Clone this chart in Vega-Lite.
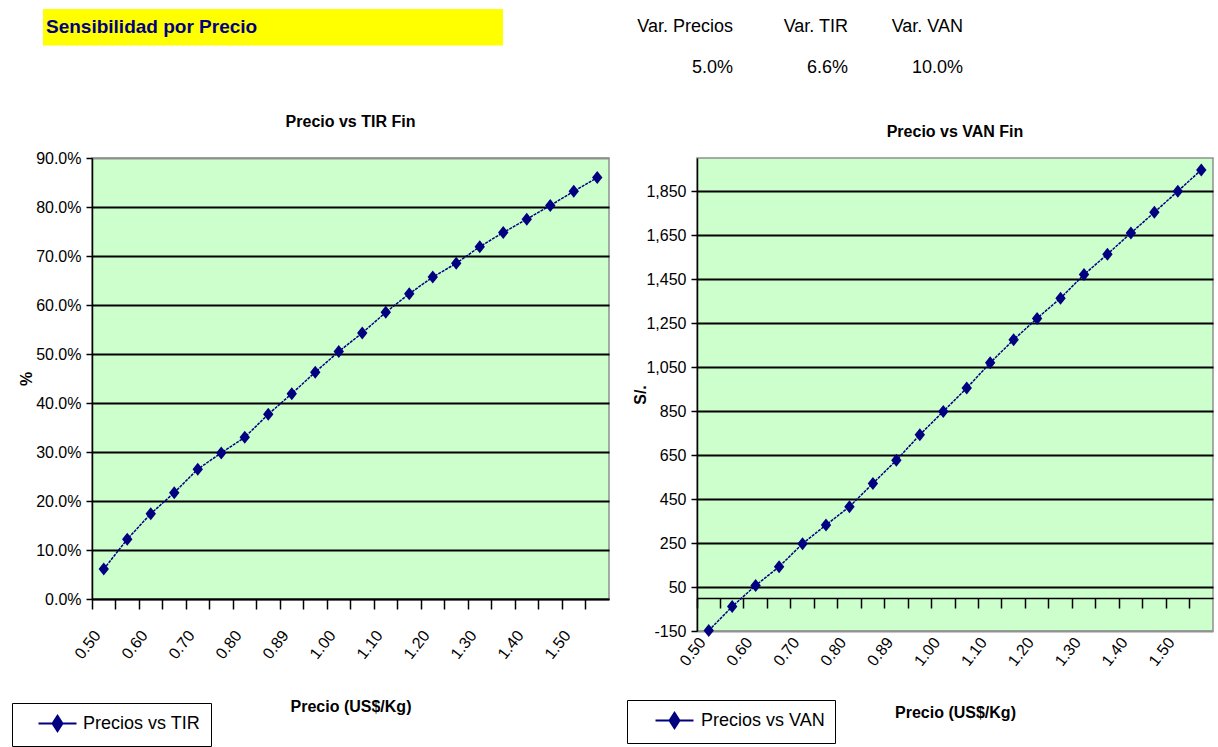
{
  "$schema": "https://vega.github.io/schema/vega-lite/v6.json",
  "padding": {"left": 10, "top": 0, "right": 0, "bottom": 0},
  "background": "#ffffff",
  "datasets": {
    "titulo": [{"titulo": "Sensibilidad por Precio"}],
    "resumen": [
      {"variable": "Var. Precios", "valor": "5.0%"},
      {"variable": "Var. TIR", "valor": "6.6%"},
      {"variable": "Var. VAN", "valor": "10.0%"}
    ],
    "sens": [
      {"precio": "0.50", "tir": 0.061, "van": -148},
      {"precio": "0.55", "tir": 0.122, "van": -39},
      {"precio": "0.60", "tir": 0.174, "van": 57},
      {"precio": "0.65", "tir": 0.217, "van": 142},
      {"precio": "0.70", "tir": 0.265, "van": 247},
      {"precio": "0.75", "tir": 0.298, "van": 332},
      {"precio": "0.80", "tir": 0.330, "van": 415},
      {"precio": "0.84", "tir": 0.377, "van": 521},
      {"precio": "0.89", "tir": 0.419, "van": 626},
      {"precio": "0.94", "tir": 0.463, "van": 742},
      {"precio": "1.00", "tir": 0.505, "van": 848},
      {"precio": "1.05", "tir": 0.543, "van": 954},
      {"precio": "1.10", "tir": 0.585, "van": 1069},
      {"precio": "1.15", "tir": 0.623, "van": 1174},
      {"precio": "1.20", "tir": 0.657, "van": 1271},
      {"precio": "1.25", "tir": 0.685, "van": 1363},
      {"precio": "1.30", "tir": 0.719, "van": 1470},
      {"precio": "1.35", "tir": 0.748, "van": 1563},
      {"precio": "1.40", "tir": 0.775, "van": 1659},
      {"precio": "1.45", "tir": 0.803, "van": 1753},
      {"precio": "1.50", "tir": 0.832, "van": 1849},
      {"precio": "1.55", "tir": 0.860, "van": 1946}
    ]
  },
  "spacing": 21,
  "vconcat": [
    {
      "width": 1100,
      "height": 87,
      "view": {"stroke": null, "fill": null},
      "layer": [
        {
          "data": {"name": "titulo"},
          "transform": [{"fold": ["titulo"], "as": ["fila", "texto"]}],
          "layer": [
            {
              "mark": {"type": "rect", "fill": "#ffff00"},
              "encoding": {
                "x": {"field": "texto", "type": "nominal", "scale": {"type": "band", "range": [-49, 411], "paddingInner": 0, "paddingOuter": 0}, "axis": null},
                "y": {"field": "fila", "type": "nominal", "scale": {"type": "band", "domain": ["titulo", "vacio"], "range": [9, 86], "paddingInner": 0.1, "paddingOuter": 0}, "axis": null}
              }
            },
            {
              "mark": {"type": "text", "align": "left", "baseline": "middle", "dx": 3, "fontSize": 19, "fontWeight": "bold", "color": "#000080"},
              "encoding": {
                "x": {"field": "texto", "type": "nominal", "bandPosition": 0, "axis": null},
                "y": {"field": "fila", "type": "nominal", "bandPosition": 0.5, "axis": null},
                "text": {"field": "texto"}
              }
            }
          ]
        },
        {
          "data": {"name": "resumen"},
          "transform": [{"fold": ["variable", "valor"], "as": ["fila", "texto"]}],
          "mark": {"type": "text", "align": "right", "baseline": "middle", "fontSize": 18, "color": "#000000"},
          "encoding": {
            "x": {"field": "variable", "type": "nominal", "sort": null, "bandPosition": 1, "scale": {"type": "band", "range": [526, 871], "paddingInner": 0, "paddingOuter": 0}, "axis": null},
            "y": {"field": "fila", "type": "nominal", "bandPosition": 0.5, "scale": {"type": "band", "domain": ["variable", "valor"], "range": [9, 86], "paddingInner": 0.1, "paddingOuter": 0}, "axis": null},
            "text": {"field": "texto"}
          }
        }
      ],
      "resolve": {"scale": {"x": "independent", "y": "independent"}}
    },
    {
      "spacing": 15,
      "columns": 2,
      "align": "none",
      "resolve": {"scale": {"color": "independent"}, "legend": {"color": "independent"}},
      "concat": [
        {
          "width": 517,
          "height": 441,
          "view": {"stroke": "#909090", "strokeWidth": 1.5, "fill": "#ccffcc"},
          "title": {"text": "Precio vs TIR Fin", "offset": 20},
          "data": {"name": "sens"},
          "layer": [
            {
              "mark": {"type": "line", "strokeWidth": 1.5, "strokeDash": [3, 1]},
              "encoding": {
                "x": {
                  "field": "precio", "type": "ordinal", "sort": null, "bandPosition": 0.5,
                  "scale": {"type": "band", "paddingInner": 0, "paddingOuter": 0},
                  "axis": {
                    "orient": "bottom",
                    "values": ["0.50", "0.60", "0.70", "0.80", "0.89", "1.00", "1.10", "1.20", "1.30", "1.40", "1.50"],
                    "bandPosition": 0.5, "labelAngle": -52, "labelAlign": "right", "labelBaseline": "bottom", "labelDx": -4,
                    "ticks": false, "tickSize": 0, "domain": false, "grid": false, "labelPadding": 38,
                    "title": "Precio (US$/Kg)", "titleY": 107, "titleBaseline": "middle"
                  }
                },
                "y": {
                  "field": "tir", "type": "quantitative",
                  "scale": {"domain": [0, 0.9], "nice": false, "zero": false},
                  "axis": {
                    "values": [0, 0.1, 0.2, 0.3, 0.4, 0.5, 0.6, 0.7, 0.8, 0.9],
                    "format": ".1%", "grid": true, "title": "%", "titleX": -66, "titleBaseline": "middle",
                    "gridColor": {"condition": {"test": "datum.value > 0.85", "value": "#909090"}, "value": "#000000"}
                  }
                },
                "color": {
                  "datum": "Precios vs TIR", "type": "nominal",
                  "scale": {"range": ["#000080"]},
                  "legend": {
                    "orient": "none", "legendX": -80, "legendY": 545, "title": null,
                    "strokeColor": "#000000", "fillColor": "#ffffff", "padding": 10,
                    "symbolType": "M-2,0L2,0M0,-0.8L0.52,0L0,0.8L-0.52,0Z", "symbolSize": 361,
                    "symbolStrokeWidth": 2, "symbolOffset": 25, "symbolFillColor": "#000080", "symbolStrokeColor": "#000080",
                    "labelFontSize": 18, "labelColor": "#000000", "labelOffset": 15
                  }
                }
              }
            },
            {
              "mark": {"type": "point", "shape": "M0,-1L0.8,0L0,1L-0.8,0Z", "size": 169, "filled": true, "opacity": 1},
              "encoding": {
                "x": {
                  "field": "precio", "type": "ordinal", "sort": null, "bandPosition": 0.5,
                  "axis": {"orient": "bottom", "bandPosition": 0, "labels": false, "ticks": true, "tickSize": 10, "domain": true, "grid": false, "title": null}
                },
                "y": {"field": "tir", "type": "quantitative"},
                "color": {"datum": "Precios vs TIR", "type": "nominal"}
              }
            }
          ],
          "resolve": {"axis": {"x": "independent"}}
        },
        {
          "width": 516,
          "height": 473,
          "view": {"stroke": "#909090", "strokeWidth": 1.5, "fill": "#ccffcc"},
          "title": {"text": ["", "Precio vs VAN Fin"], "lineHeight": 15, "offset": 18},
          "data": {"name": "sens"},
          "layer": [
            {
              "mark": {"type": "line", "strokeWidth": 1.5, "strokeDash": [3, 1]},
              "encoding": {
                "x": {
                  "field": "precio", "type": "ordinal", "sort": null, "bandPosition": 0.5,
                  "scale": {"type": "band", "paddingInner": 0, "paddingOuter": 0},
                  "axis": {
                    "orient": "bottom",
                    "values": ["0.50", "0.60", "0.70", "0.80", "0.89", "1.00", "1.10", "1.20", "1.30", "1.40", "1.50"],
                    "bandPosition": 0.5, "labelAngle": -52, "labelAlign": "right", "labelBaseline": "bottom", "labelDx": -4,
                    "ticks": false, "tickSize": 0, "domain": false, "grid": false, "labelPadding": 13,
                    "title": "Precio (US$/Kg)", "titleY": 81, "titleBaseline": "middle"
                  }
                },
                "y": {
                  "field": "van", "type": "quantitative",
                  "scale": {"domain": [-150, 2000], "nice": false, "zero": false},
                  "axis": {
                    "values": [-150, 50, 250, 450, 650, 850, 1050, 1250, 1450, 1650, 1850],
                    "labelExpr": "(datum.value < 0 ? '-' : '') + format(abs(datum.value), ',')",
                    "grid": true, "title": "S/.", "titleX": -57, "titleBaseline": "middle",
                    "gridColor": {"condition": {"test": "datum.value < -100", "value": "#909090"}, "value": "#000000"}
                  }
                },
                "color": {
                  "datum": "Precios vs VAN", "type": "nominal",
                  "scale": {"range": ["#000080"]},
                  "legend": {
                    "orient": "none", "legendX": -70, "legendY": 542, "title": null,
                    "strokeColor": "#000000", "fillColor": "#ffffff", "padding": 10,
                    "symbolType": "M-2,0L2,0M0,-0.8L0.52,0L0,0.8L-0.52,0Z", "symbolSize": 361,
                    "symbolStrokeWidth": 2, "symbolOffset": 27, "symbolFillColor": "#000080", "symbolStrokeColor": "#000080",
                    "labelFontSize": 18, "labelColor": "#000000", "labelOffset": 16
                  }
                }
              }
            },
            {
              "mark": {"type": "point", "shape": "M0,-1L0.8,0L0,1L-0.8,0Z", "size": 169, "filled": true, "opacity": 1},
              "encoding": {
                "x": {
                  "field": "precio", "type": "ordinal", "sort": null, "bandPosition": 0.5,
                  "axis": {"orient": "bottom", "bandPosition": 0, "labels": false, "ticks": true, "tickSize": 10, "domain": true, "grid": false, "title": null, "offset": -33}
                },
                "y": {"field": "van", "type": "quantitative"},
                "color": {"datum": "Precios vs VAN", "type": "nominal"}
              }
            }
          ],
          "resolve": {"axis": {"x": "independent"}}
        }
      ]
    }
  ],
  "config": {
    "font": "Liberation Sans, Arial, sans-serif",
    "title": {"font": "Liberation Sans, Arial, sans-serif", "fontSize": 16, "fontWeight": "bold", "color": "#000000", "anchor": "middle"},
    "axis": {
      "labelFont": "Liberation Sans, Arial, sans-serif",
      "labelFontSize": 16, "labelColor": "#000000",
      "titleFont": "Liberation Sans, Arial, sans-serif",
      "titleFontSize": 16, "titleFontWeight": "bold", "titleColor": "#000000",
      "domainColor": "#000000", "domainWidth": 1.5, "tickColor": "#000000", "tickWidth": 1.5,
      "gridWidth": 2, "gridOpacity": 1, "labelOverlap": false
    },
    "axisY": {"tickSize": 6, "labelPadding": 5},
    "legend": {"labelFont": "Liberation Sans, Arial, sans-serif"},
    "text": {"font": "Liberation Sans, Arial, sans-serif"}
  }
}
